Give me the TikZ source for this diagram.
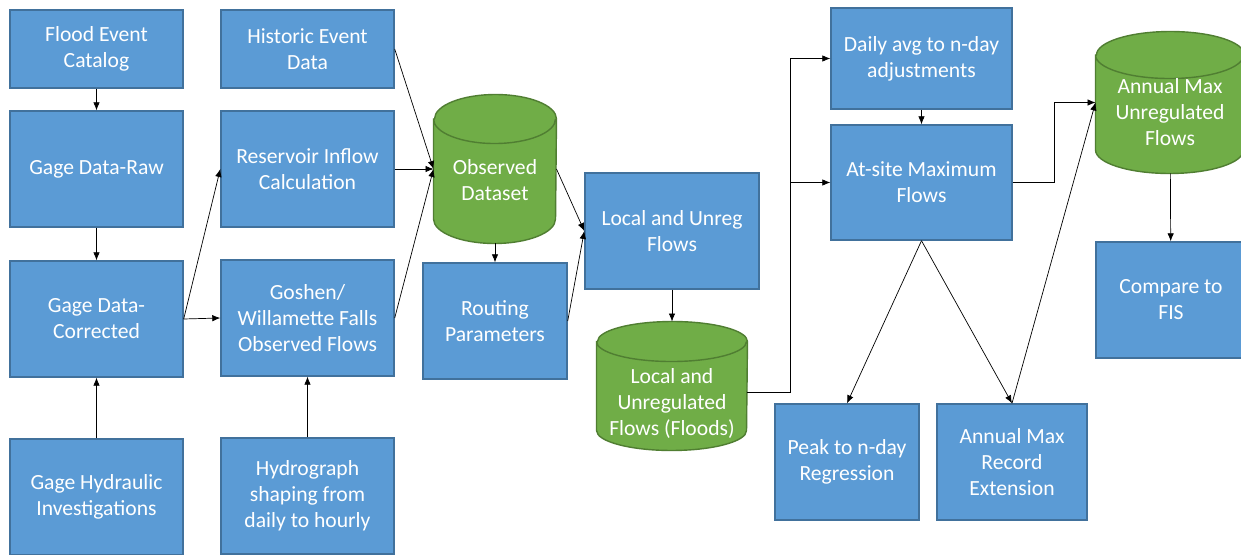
\documentclass[tikz,border=0pt]{standalone}
\usepackage{fontspec}
\setmainfont{Carlito}
\usetikzlibrary{arrows.meta}
\definecolor{boxblue}{HTML}{5B9BD5}
\definecolor{boxedge}{HTML}{41719C}
\definecolor{dbgreen}{HTML}{70AD47}
\definecolor{dbedge}{HTML}{507E32}
\pgfdeclarelayer{drums}
\pgfsetlayers{drums,main}
% move the text of a cylinder without changing its size
\newcommand{\dbtext}[2]{\raisebox{#1}[\height][\depth]{\begin{tabular}{@{}c@{}}#2\end{tabular}}}
% cylinder round a node: #1 node, #2 x radius, #3 y radius of the ends
\newcommand{\drum}[3]{\filldraw[draw=dbedge,fill=dbgreen,line width=0.8pt]
	([yshift=-#3]#1.north west) -- ([yshift=#3]#1.south west)
	arc[start angle=180,end angle=360,x radius=#2,y radius=#3]
	-- ([yshift=-#3]#1.north east)
	arc[start angle=0,end angle=180,x radius=#2,y radius=#3] -- cycle
	([yshift=-#3]#1.north west) arc[start angle=180,end angle=360,x radius=#2,y radius=#3];}
\begin{document}
\begin{tikzpicture}[x=0.2mm,y=-0.2mm,>={Latex[length=1.6mm,width=1.3mm]},line width=0.55pt,
	font=\fontsize{12.3}{14.8}\selectfont,
	blk/.style={draw=boxedge,fill=boxblue,line width=0.8pt,text=white,align=center,inner sep=1pt},
	db/.style={text=white,align=center,inner sep=0pt}]
	\useasboundingbox (0,0) rectangle (1241,555);
	% first column
	\node[blk,minimum width=34.6mm,minimum height=15.6mm] (flood) at (96.5,49) {Flood Event\\Catalog};
	\node[blk,minimum width=34.6mm,minimum height=23.2mm] (raw) at (96.5,169) {Gage Data-Raw};
	\node[blk,minimum width=34.6mm,minimum height=23.2mm] (cor) at (96.5,319) {Gage Data-\\Corrected};
	\node[blk,minimum width=34.6mm,minimum height=23.2mm] (hyd) at (96.5,497) {Gage Hydraulic\\Investigations};
	% second column
	\node[blk,minimum width=34.6mm,minimum height=15.6mm] (hist) at (307.5,49) {Historic Event\\Data};
	\node[blk,minimum width=34.6mm,minimum height=23.2mm] (resv) at (307.5,169) {Reservoir Inflow\\Calculation};
	\node[blk,minimum width=34.6mm,minimum height=23.2mm] (gosh) at (307.5,318) {Goshen/\\Willamette Falls\\Observed Flows};
	\node[blk,minimum width=34.6mm,minimum height=23.2mm] (hydro) at (307.5,496) {Hydrograph\\shaping from\\daily to hourly};
	% datasets and routing
	\node[db,minimum width=24.4mm,minimum height=29.6mm] (obs) at (495,169) {\dbtext{-2.6mm}{Observed\\Dataset}};
	\node[blk,minimum width=28.8mm,minimum height=23.2mm] (rout) at (495,321) {Routing\\Parameters};
	\node[blk,minimum width=34.8mm,minimum height=23.2mm] (local) at (672,231) {Local and Unreg\\Flows};
	\node[db,minimum width=30mm,minimum height=25.6mm] (flds) at (672,386) {\dbtext{-3.6mm}{Local and\\Unregulated\\Flows (Floods)}};
	% frequency part
	\node[blk,minimum width=36.2mm,minimum height=20.2mm] (daily) at (921.5,58.5) {Daily avg to n-day\\adjustments};
	\node[blk,minimum width=36.2mm,minimum height=23mm] (atsite) at (921.5,182.5) {At-site Maximum\\Flows};
	\node[blk,minimum width=28.8mm,minimum height=23.2mm] (peak) at (847,462) {Peak to n-day\\Regression};
	\node[blk,minimum width=30mm,minimum height=23.2mm] (rec) at (1012,462) {Annual Max\\Record\\Extension};
	\node[db,minimum width=29.6mm,minimum height=28.2mm] (annual) at (1170,102.5) {\dbtext{-2.3mm}{Annual Max\\Unregulated\\Flows}};
	\node[blk,minimum width=30mm,minimum height=23.2mm] (fis) at (1171,300) {Compare to\\FIS};
	% cylinders behind their texts
	\begin{pgfonlayer}{drums}
		\fill[white] (0,0) rectangle (1241,555);
		\drum{obs}{12.2mm}{4.9mm}
		\drum{flds}{15mm}{4mm}
		\drum{annual}{14.8mm}{4.7mm}
	\end{pgfonlayer}
	% connectors
	\draw[->] (flood) -- (raw);
	\draw[->] (raw) -- (cor);
	\draw[->] (hyd) -- (cor);
	\draw[->] (cor.east) -- (gosh.west);
	\draw[->] (cor.east) -- (resv.west);
	\draw[->] (hydro) -- (gosh);
	\draw[->] (hist.east) -- (obs.west);
	\draw[->] (resv.east) -- (obs.west);
	\draw[->] (gosh.east) -- (obs.west);
	\draw[->] (obs) -- (rout);
	\draw[->] (obs.east) -- (local.west);
	\draw[->] (rout.east) -- (local.west);
	\draw[->] (local) -- (flds);
	\draw[->] ([yshift=-1.2mm]flds.east) -- ++(43,0) coordinate (fj) |- (daily.west);
	\draw[->] (fj) |- (atsite.west);
	\draw[->] (daily) -- (atsite);
	\draw[->] (atsite.east) -- ++(42,0) |- (annual.west);
	\draw[->] (atsite.south) -- (peak.north);
	\draw[->] (atsite.south) -- (rec.north);
	\draw[->] (rec.north) -- (annual.west);
	\draw[->] (annual) -- (fis);
\end{tikzpicture}
\end{document}
